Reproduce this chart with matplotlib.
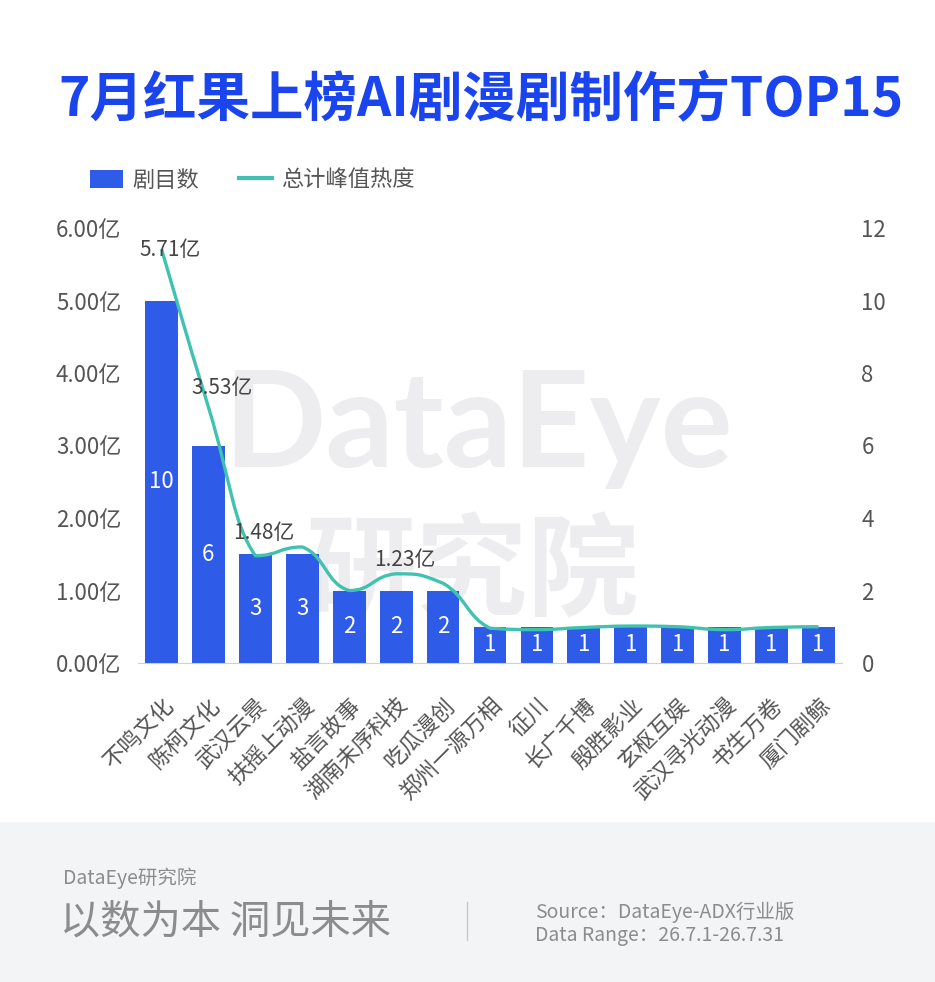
import numpy as np
import matplotlib.pyplot as plt
from matplotlib.path import Path
from matplotlib.patches import PathPatch, Rectangle
from matplotlib.lines import Line2D

plt.rcParams['font.family'] = ['Noto Sans CJK SC', 'DejaVu Sans']

# data
studios = ['不鸣文化', '陈柯文化', '武汉云景', '扶摇上动漫', '盐言故事', '湖南未序科技', '吃瓜漫创',
           '郑州一源万相', '征川', '长广千博', '殷胜影业', '玄枢互娱', '武汉寻光动漫', '书生万卷', '厦门剧鲸']
drama_count = [10, 6, 3, 3, 2, 2, 2, 1, 1, 1, 1, 1, 1, 1, 1]
peak_heat = [5.71, 3.53, 1.48, 1.60, 1.00, 1.23, 1.10, 0.48, 0.46, 0.49, 0.51, 0.50, 0.46, 0.49, 0.50]  # 亿
labelled = [0, 1, 2, 5]

BLUE = '#2e5be8'
TEAL = '#40c2b0'
GREY = '#555555'

fig = plt.figure(figsize=[9.35, 9.82], dpi=100)
fig.patch.set_facecolor('white')

# footer band
fig.patches.append(Rectangle((0, 0), 1, 160 / 982, transform=fig.transFigure,
                             facecolor='#f3f4f6', edgecolor='none', zorder=-5))

# watermark
fig.text(478 / 935, 1 - 428 / 982, 'DataEye', fontsize=97, family='Lato', fontweight='bold',
         color='#ededf0', ha='center', va='center', zorder=-2)
fig.text(472 / 935, 1 - 575 / 982, '研究院', fontsize=80, color='#ededf0', fontweight='bold',
         ha='center', va='center', zorder=-2)

ax = fig.add_axes([138 / 935, 1 - 663 / 982, 704 / 935, 435 / 982])
ax.set_facecolor('none')
ax2 = ax.twinx()

x = np.arange(len(studios))
ax.bar(x, drama_count, width=0.7, color=BLUE, zorder=2)
for xi, v in zip(x, drama_count):
    ax.text(xi, v / 2, str(v), ha='center', va='center', color='white', fontsize=16, zorder=3)

ax.set_xlim(-0.5, len(studios) - 0.5)
ax.set_ylim(0, 12)
ax.set_yticks([0, 2, 4, 6, 8, 10, 12])
ax.yaxis.tick_right()
ax.tick_params(axis='y', length=0, pad=14, labelsize=16, labelcolor=GREY)
ax.set_xticks(x)
ax.set_xticklabels(studios, rotation=45, ha='right', rotation_mode='anchor')
ax.tick_params(axis='x', length=0, pad=22, labelsize=16, labelcolor=GREY)
for s in ['top', 'left', 'right']:
    ax.spines[s].set_visible(False)
ax.spines['bottom'].set_color('#d0d0d0')

ax2.set_ylim(0, 6)
ax2.set_yticks([0, 1, 2, 3, 4, 5, 6])
ax2.set_yticklabels(['%.2f亿' % t for t in range(7)])
ax2.yaxis.tick_left()
ax2.tick_params(axis='y', length=0, pad=12, labelsize=16, labelcolor=GREY)
for s in ['top', 'left', 'right', 'bottom']:
    ax2.spines[s].set_visible(False)

# smooth line through the points (cubic bezier, control points kept inside each segment's range)
pts = np.column_stack([x, peak_heat]).astype(float)
t = 0.25
verts = [pts[0]]
codes = [Path.MOVETO]
for i in range(len(pts) - 1):
    p0 = pts[max(i - 1, 0)]
    p1 = pts[i]
    p2 = pts[i + 1]
    p3 = pts[min(i + 2, len(pts) - 1)]
    c1 = p1 + (p2 - p0) * t
    c2 = p2 - (p3 - p1) * t
    lo, hi = min(p1[1], p2[1]), max(p1[1], p2[1])
    c1[1] = np.clip(c1[1], lo, hi)
    c2[1] = np.clip(c2[1], lo, hi)
    verts += [c1, c2, p2]
    codes += [Path.CURVE4] * 3
ax2.add_patch(PathPatch(Path(verts, codes), facecolor='none', edgecolor=TEAL, lw=2.4, zorder=4))

offsets = {0: (6, -1), 1: (10, 14), 2: (6, 16), 5: (6, 10)}
for i in labelled:
    ax2.annotate('%.2f亿' % peak_heat[i], (x[i], peak_heat[i]), xytext=offsets[i],
                 textcoords='offset points', ha='center', va='center', fontsize=15, color='#444444',
                 zorder=5)

# legend
handles = [Rectangle((0, 0), 1, 1, facecolor=BLUE), Line2D([], [], color=TEAL, lw=3)]
fig.legend(handles, ['剧目数', '总计峰值热度'], loc='center left', bbox_to_anchor=(70 / 935, 1 - 180 / 982),
           ncol=2, frameon=False, fontsize=16, handlelength=1.5, handleheight=0.9, handletextpad=0.4,
           columnspacing=1.8, labelcolor=GREY)

# title
fig.text(481 / 935, 1 - 101 / 982, '7月红果上榜AI剧漫剧制作方TOP15', fontsize=38.5, fontweight='bold',
         color='#1a44ee', ha='center', va='center')

# footer
fig.text(63 / 935, 1 - 878 / 982, 'DataEye研究院', fontsize=14, color='#8c8c8c', va='center')
fig.text(60 / 935, 1 - 922 / 982, '以数为本 洞见未来', fontsize=29, color='#8c8c8c', va='center')
fig.add_artist(Line2D([467 / 935, 467 / 935], [1 - 902 / 982, 1 - 940 / 982], color='#c8c8c8', lw=1))
fig.text(535 / 935, 1 - 912 / 982, 'Source：DataEye-ADX行业版', fontsize=14, color='#8c8c8c', va='center')
fig.text(535 / 935, 1 - 936 / 982, 'Data Range：26.7.1-26.7.31', fontsize=14, color='#8c8c8c', va='center')

fig.savefig('out.png', dpi=100)
